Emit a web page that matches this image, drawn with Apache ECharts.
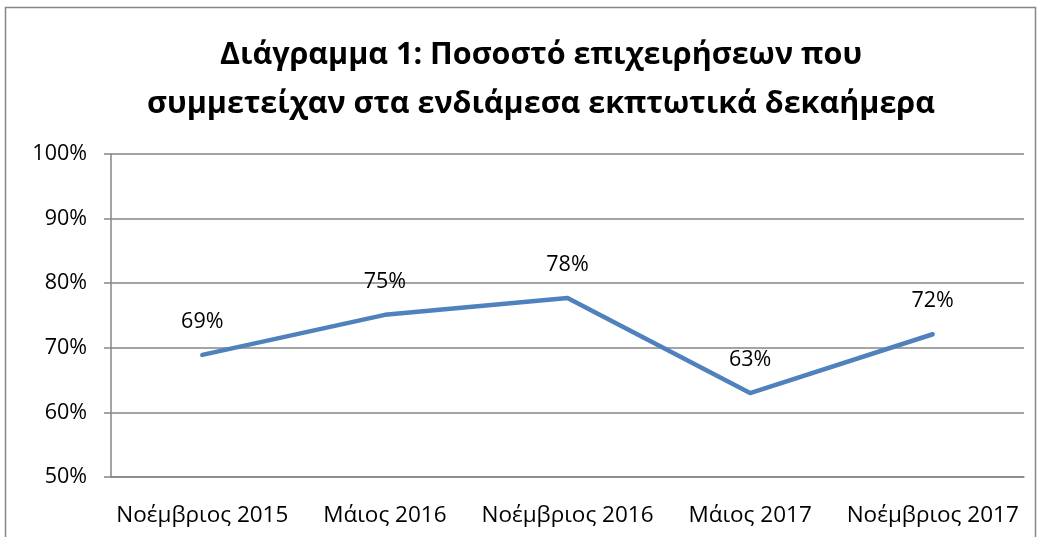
<!DOCTYPE html>
<html>
<head>
<meta charset="utf-8">
<script src="https://cdn.jsdelivr.net/npm/echarts@6/dist/echarts.min.js"></script>
<style>
  html, body { margin: 0; padding: 0; background: #fff; }
  #chart { width: 1041px; height: 537px; }
</style>
</head>
<body>
<div id="chart"></div>
<script>
var titleLines = [
  'Διάγραμμα 1: Ποσοστό επιχειρήσεων που',
  'συμμετείχαν στα ενδιάμεσα εκπτωτικά δεκαήμερα'
];
var categories = ['Νοέμβριος 2015', 'Μάιος 2016', 'Νοέμβριος 2016', 'Μάιος 2017', 'Νοέμβριος 2017'];
var shares = [68.9, 75.1, 77.7, 63.0, 72.1];

var chart = echarts.init(document.getElementById('chart'), null, { renderer: 'canvas' });
var font = '"Open Sans", "Noto Sans", sans-serif';

chart.setOption({
  animation: false,
  textStyle: { fontFamily: font },
  title: {
    text: titleLines.join('\n'),
    left: 536,
    textAlign: 'center',
    top: 26,
    textStyle: {
      fontFamily: font,
      fontWeight: 'bold',
      fontSize: 30.5,
      lineHeight: 49,
      color: '#000'
    }
  },
  graphic: [{
    type: 'rect',
    shape: { x: 5.5, y: 7.5, width: 1030, height: 540 },
    style: { fill: 'none', stroke: '#868686', lineWidth: 1.5 },
    silent: true
  }],
  grid: { left: 111, right: 17, top: 154, bottom: 60 },
  xAxis: {
    type: 'category',
    data: categories,
    boundaryGap: true,
    axisLine: { lineStyle: { color: '#868686', width: 1.5 } },
    axisTick: { show: false },
    axisLabel: { color: '#000', fontSize: 22.5, margin: 27, interval: 0 }
  },
  yAxis: {
    type: 'value',
    min: 50,
    max: 100,
    interval: 10,
    axisLine: { show: true, lineStyle: { color: '#868686', width: 1.5 } },
    axisTick: { show: true, length: 7, lineStyle: { color: '#868686', width: 1.5 } },
    axisLabel: {
      color: '#000',
      fontSize: 21.5,
      margin: 24,
      formatter: function(v) { return v + '%'; }
    },
    splitLine: { lineStyle: { color: '#868686', width: 1.5 } }
  },
  series: [{
    type: 'line',
    data: shares,
    showSymbol: true,
    symbol: 'circle',
    symbolSize: 0.1,
    itemStyle: { color: '#4F81BD' },
    lineStyle: { color: '#4F81BD', width: 4.5, cap: 'round', join: 'round' },
    label: {
      show: true,
      position: 'top',
      distance: 22,
      color: '#000',
      fontSize: 21.5,
      formatter: function(p) { return Math.round(p.value) + '%'; }
    }
  }]
});
</script>
</body>
</html>
